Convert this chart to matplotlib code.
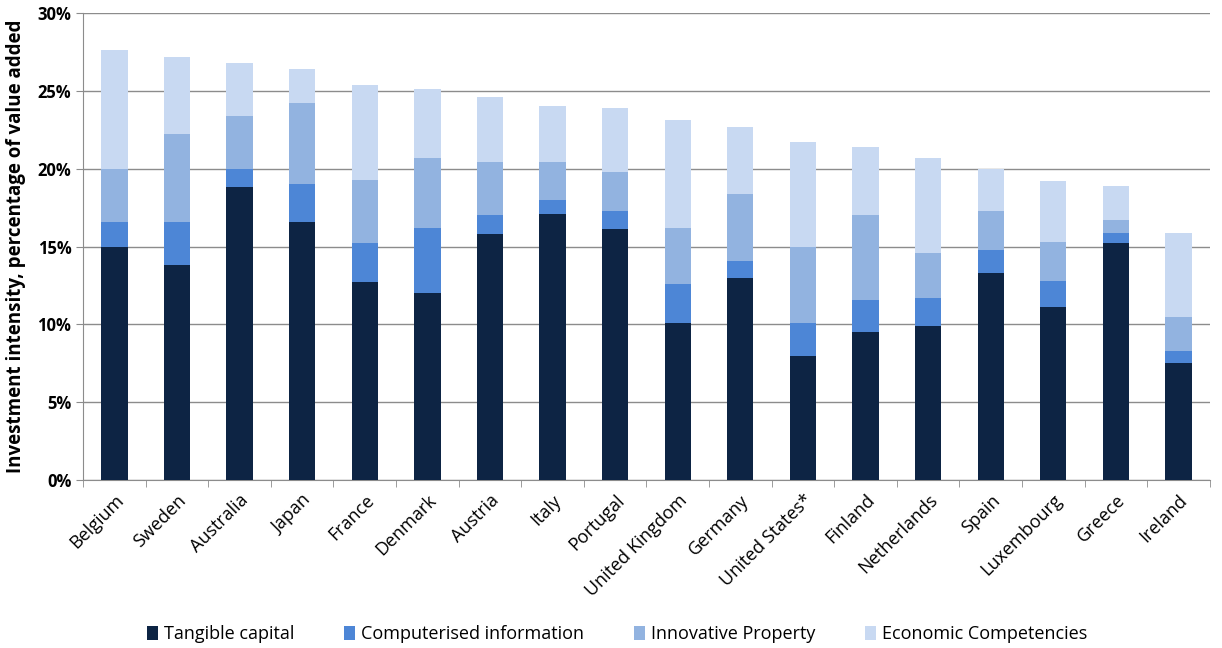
import numpy as np
import matplotlib
matplotlib.use("Agg")
import matplotlib.pyplot as plt
from matplotlib.ticker import FuncFormatter, MultipleLocator

plt.rcParams["font.family"] = ["Open Sans", "DejaVu Sans"]

countries = ["Belgium", "Sweden", "Australia", "Japan", "France", "Denmark",
             "Austria", "Italy", "Portugal", "United Kingdom", "Germany",
             "United States*", "Finland", "Netherlands", "Spain", "Luxembourg",
             "Greece", "Ireland"]

# cumulative tops (percent of value added)
tangible_top = [15.0, 13.8, 18.8, 16.6, 12.7, 12.0, 15.8, 17.1, 16.1, 10.1,
                13.0, 8.0, 9.5, 9.9, 13.3, 11.1, 15.2, 7.5]
computer_top = [16.6, 16.6, 20.0, 19.0, 15.2, 16.2, 17.0, 18.0, 17.3, 12.6,
                14.1, 10.1, 11.6, 11.7, 14.8, 12.8, 15.9, 8.3]
innov_top = [20.0, 22.2, 23.4, 24.2, 19.3, 20.7, 20.4, 20.4, 19.8, 16.2,
             18.4, 15.0, 17.0, 14.6, 17.3, 15.3, 16.7, 10.5]
total_top = [27.6, 27.2, 26.8, 26.4, 25.4, 25.1, 24.6, 24.0, 23.9, 23.1,
             22.7, 21.7, 21.4, 20.7, 20.0, 19.2, 18.9, 15.9]

tangible = np.array(tangible_top)
computerised = np.array(computer_top) - np.array(tangible_top)
innovative = np.array(innov_top) - np.array(computer_top)
economic = np.array(total_top) - np.array(innov_top)

series = [
    ("Tangible capital", tangible, "#0d2444"),
    ("Computerised information", computerised, "#4d86d6"),
    ("Innovative Property", innovative, "#92b3e0"),
    ("Economic Competencies", economic, "#c8d9f2"),
]

fig = plt.figure(figsize=(12.22, 6.48), dpi=100)
ax = fig.add_axes([0.068, 0.259, 0.922, 0.721])

x = np.arange(len(countries))
bottom = np.zeros(len(countries))
for name, vals, color in series:
    ax.bar(x, vals, bottom=bottom, width=0.42, color=color, label=name, zorder=3)
    bottom = bottom + vals

ax.set_xlim(-0.5, len(countries) - 0.5)
ax.set_ylim(0, 30)
ax.yaxis.set_major_locator(MultipleLocator(5))
ax.yaxis.set_major_formatter(FuncFormatter(lambda v, p: f"{v:.0f}%"))
ax.grid(axis="y", color="#8c8c8c", linewidth=1.0, zorder=0)

ax.set_xticks(x)
ax.set_xticklabels(countries, rotation=45, ha="right", rotation_mode="anchor",
                   fontsize=13)
ax.tick_params(axis="x", length=0, pad=8)
ax.set_xticks(np.arange(len(countries) + 1) - 0.5, minor=True)
ax.tick_params(axis="x", which="minor", length=5, color="#8c8c8c", direction="out")
ax.tick_params(axis="y", length=5, color="#8c8c8c", labelsize=12)
for lbl in ax.get_yticklabels():
    lbl.set_fontweight("bold")

for side in ["top", "right"]:
    ax.spines[side].set_visible(False)
for side in ["left", "bottom"]:
    ax.spines[side].set_color("#8c8c8c")

ax.set_ylabel("Investment intensity, percentage of value added",
              fontsize=13.5, fontweight="bold", labelpad=8)

fig.legend(loc="lower center", bbox_to_anchor=(0.505, -0.018), ncol=4,
           frameon=False, fontsize=13, handlelength=0.6, handleheight=0.8,
           columnspacing=2.8, handletextpad=0.3)

fig.savefig("out.png", dpi=100)
